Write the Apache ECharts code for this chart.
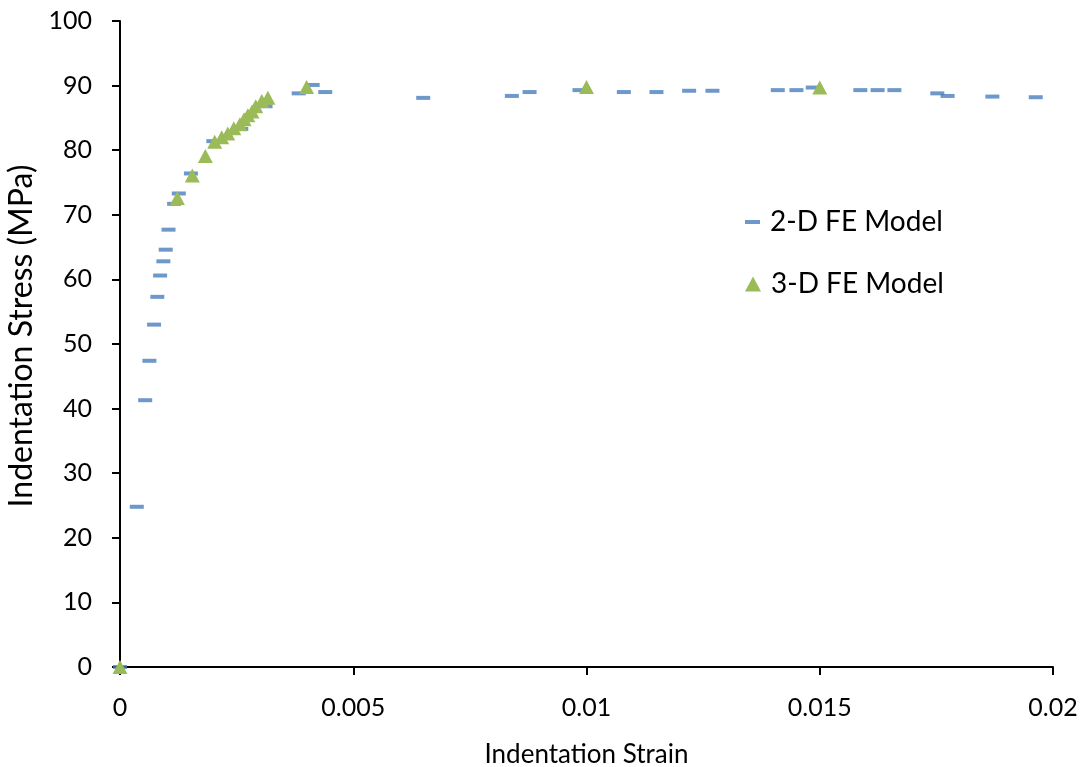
<!DOCTYPE html>
<html>
<head>
<meta charset="utf-8">
<script src="https://cdn.jsdelivr.net/npm/echarts@6/dist/echarts.min.js"></script>
<style>
  html, body { margin: 0; padding: 0; background: #fff; }
  #chart { width: 1085px; height: 767px; }
</style>
</head>
<body>
<div id="chart"></div>
<script>
// Series names
const seriesNames = ['2-D FE Model', '3-D FE Model'];

// 2-D FE model: [indentation strain, indentation stress (MPa)]
const model2D = [
  [0, 0], [0.00036, 24.8], [0.00054, 41.3], [0.00063, 47.4], [0.00073, 53.0],
  [0.0008, 57.3], [0.00086, 60.6], [0.00093, 62.8], [0.00098, 64.6],
  [0.00104, 67.7], [0.00116, 71.7], [0.00126, 73.3], [0.00152, 76.4],
  [0.002, 81.4], [0.0026, 83.3], [0.00312, 86.8], [0.00383, 88.8],
  [0.00413, 90.1], [0.0044, 89.0], [0.0065, 88.1], [0.0084, 88.4],
  [0.00878, 89.0], [0.00985, 89.3], [0.0108, 89.0], [0.0115, 89.0],
  [0.0122, 89.2], [0.0127, 89.2], [0.0141, 89.3], [0.0145, 89.3],
  [0.01485, 89.7], [0.01587, 89.3], [0.01624, 89.3], [0.0166, 89.3],
  [0.01752, 88.8], [0.01774, 88.4], [0.0187, 88.3], [0.01963, 88.2]
];

// 3-D FE model: [indentation strain, indentation stress (MPa)]
const model3D = [
  [0, 0], [0.00123, 72.6], [0.00155, 76.1], [0.00183, 79.1], [0.00203, 81.3],
  [0.00218, 82.0], [0.00231, 82.6], [0.00244, 83.4], [0.00257, 84.0],
  [0.00266, 84.8], [0.00274, 85.4], [0.00283, 86.0], [0.00291, 86.8],
  [0.00304, 87.6], [0.00317, 88.1], [0.004, 89.8], [0.01, 89.8], [0.015, 89.7]
];

// Axis ticks
const xTicks = { min: 0, max: 0.02, interval: 0.005 };
const yTicks = { min: 0, max: 100, interval: 10 };

const FONT = 'Lato, "Open Sans", sans-serif';
const BLUE = '#4a7ebb';
const GREEN = '#9bbb59';

const chart = echarts.init(document.getElementById('chart'), null, { renderer: 'canvas' });

const axisCommon = {
  axisLine: { show: true, onZero: false, lineStyle: { color: '#000', width: 2 } },
  axisTick: { show: true, length: 8, lineStyle: { color: '#000', width: 2 } },
  splitLine: { show: false },
  nameTextStyle: { fontFamily: FONT, fontSize: 26, color: '#000' },
  axisLabel: { fontFamily: FONT, fontSize: 25, color: '#000' }
};

const legendText = { fontFamily: FONT, fontSize: 28, color: '#000', padding: [0, 0, 0, 5] };

chart.setOption({
  animation: false,
  backgroundColor: '#fff',
  grid: {
    left: 120, right: 32, top: 21, bottom: 100,
    containLabel: false,
    outerBoundsMode: 'none'
  },
  xAxis: Object.assign({}, axisCommon, {
    type: 'value',
    min: xTicks.min, max: xTicks.max, interval: xTicks.interval,
    name: 'Indentation Strain',
    nameLocation: 'middle',
    nameGap: 75,
    axisLabel: Object.assign({}, axisCommon.axisLabel, {
      margin: 28,
      formatter: v => String(+v.toFixed(3))
    })
  }),
  yAxis: Object.assign({}, axisCommon, {
    type: 'value',
    min: yTicks.min, max: yTicks.max, interval: yTicks.interval,
    name: 'Indentation Stress (MPa)',
    nameLocation: 'middle',
    nameGap: 79,
    nameTextStyle: { fontFamily: FONT, fontSize: 32, color: '#000', padding: [0, 0, 0, 16] },
    axisLabel: Object.assign({}, axisCommon.axisLabel, { margin: 28 })
  }),
  legend: [
    {
      data: [seriesNames[0]],
      left: 740, top: 203,
      itemWidth: 15, itemHeight: 4,
      icon: 'rect',
      textStyle: legendText
    },
    {
      data: [seriesNames[1]],
      left: 740, top: 265,
      itemWidth: 16, itemHeight: 15,
      icon: 'triangle',
      textStyle: legendText
    }
  ],
  series: [
    {
      name: seriesNames[0],
      type: 'scatter',
      data: model2D,
      symbol: 'rect',
      symbolSize: [14, 4],
      itemStyle: { color: BLUE },
      clip: false,
      z: 2
    },
    {
      name: seriesNames[1],
      type: 'scatter',
      data: model3D,
      symbol: 'triangle',
      symbolSize: [15, 14],
      itemStyle: { color: GREEN, opacity: 1 },
      clip: false,
      z: 3
    }
  ]
});
</script>
</body>
</html>
